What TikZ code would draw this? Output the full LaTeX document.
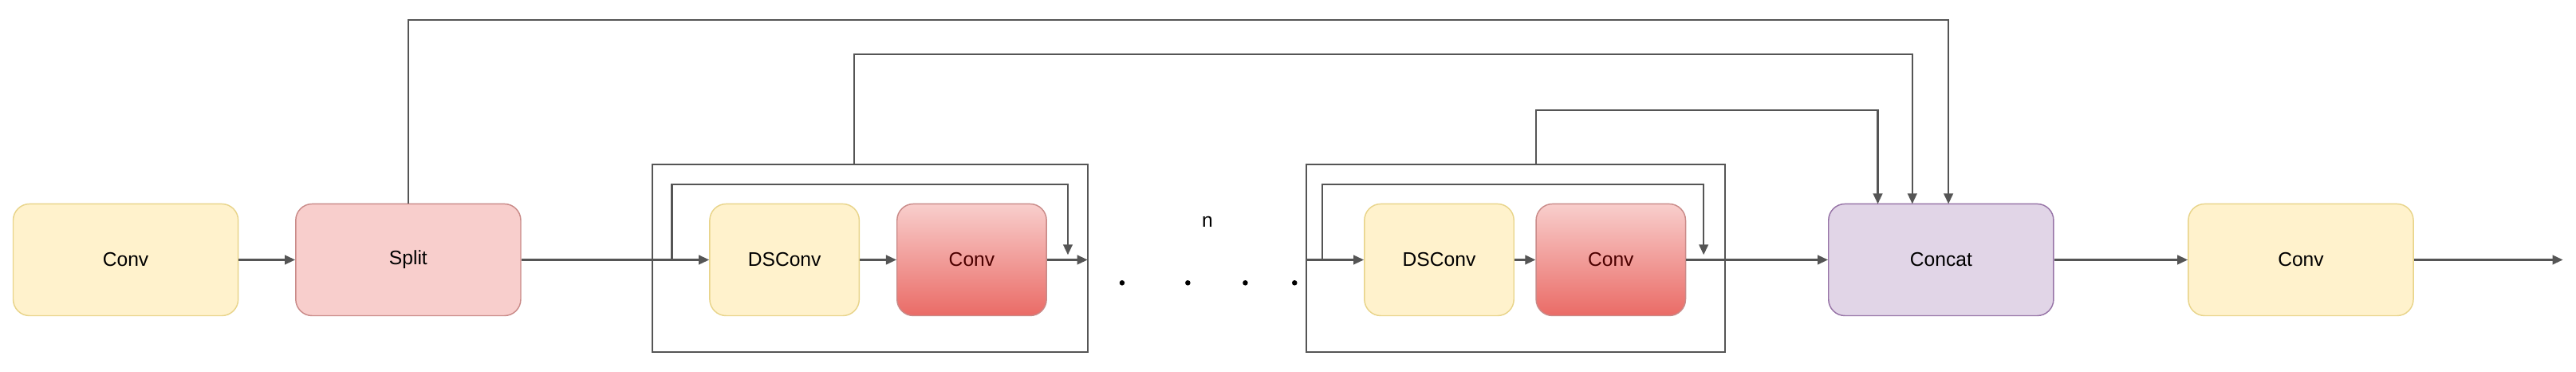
\documentclass[tikz,border=0pt]{standalone}
\usepackage{fontspec}
\setmainfont{Liberation Sans}
\usetikzlibrary{arrows.meta}
\definecolor{yfill}{HTML}{FFF2CC}\definecolor{ydraw}{HTML}{E8D48A}
\definecolor{rfill}{HTML}{F8CECC}\definecolor{rdraw}{HTML}{C98A88}
\definecolor{rdark}{HTML}{EA6B66}
\definecolor{pfill}{HTML}{E1D5E7}\definecolor{pdraw}{HTML}{9673A6}
\definecolor{ln}{HTML}{555555}
\begin{document}
\begin{tikzpicture}[x=0.05cm,y=-0.05cm,
  box/.style={rounded corners=0.5cm,minimum height=3.4cm,line width=1pt,font=\fontsize{17}{20}\selectfont,inner sep=0pt},
  wide/.style={box,minimum width=6.85cm},
  narrow/.style={box,minimum width=4.55cm},
  yel/.style={fill=yfill,draw=ydraw},
  red/.style={fill=rfill,draw=rdraw},
  grad/.style={top color=rfill,bottom color=rdark,draw=rdraw,text=black!70!red},
  pur/.style={fill=pfill,draw=pdraw},
  con/.style={draw=ln,line width=1.6pt},
  arr/.style={con,-{Triangle[length=9pt,width=8pt]}},
  frame/.style={draw=ln,line width=1.6pt}]
\useasboundingbox (0,0) rectangle (1568,226);
\node[wide,yel] (c1) at (76.5,158) {Conv};
\node[wide,red] (sp) at (248.5,158) {Split};
\node[narrow,yel] (d1) at (477.5,158) {DSConv};
\node[narrow,grad] (k1) at (591.5,158) {Conv};
\node[narrow,yel] (d2) at (876,158) {DSConv};
\node[narrow,grad] (k2) at (980.5,158) {Conv};
\node[wide,pur] (cc) at (1181.5,158) {Concat};
\node[wide,yel] (c3) at (1400.5,158) {Conv};
\node[draw=none,fill=none] (b1) at (529.5,157) [minimum width=13.25cm,minimum height=5.7cm,frame] {};
\node[draw=none,fill=none] (b2) at (922.5,157) [minimum width=12.75cm,minimum height=5.7cm,frame] {};
\node (n) at (735,135) {\fontsize{17}{20}\selectfont n};
\foreach \i/\x in {1/683,2/723,3/758,4/788}
  \node[circle,fill=black,inner sep=1.6pt] (dot\i) at (\x,172) {};
\coordinate (o) at (1560,158);
\coordinate (e1) at (662,158);
\coordinate (s2) at (795,158);
\draw[arr] (c1) -- (sp);
\draw[arr] (sp) -- (d1);
\draw[arr] (d1) -- (k1);
\draw[arr] (k1) -- (e1);
\draw[arr] (409,158) |- (650,112) -- (650,155);
\draw[arr] (s2) -- (d2);
\draw[arr] (d2) -- (k2);
\draw[arr] (k2) -- (cc);
\draw[arr] (805,158) |- (1037,112) -- (1037,155);
\draw[arr] (cc) -- (c3);
\draw[arr] (c3) -- (o);
\draw[arr] (sp.north) |- (1186,12) -- (1186,124);
\draw[arr] (520,100) |- (1164,33) -- (1164,124);
\draw[arr] (935,100) |- (1143,67) -- (1143,124);
\end{tikzpicture}
\end{document}
